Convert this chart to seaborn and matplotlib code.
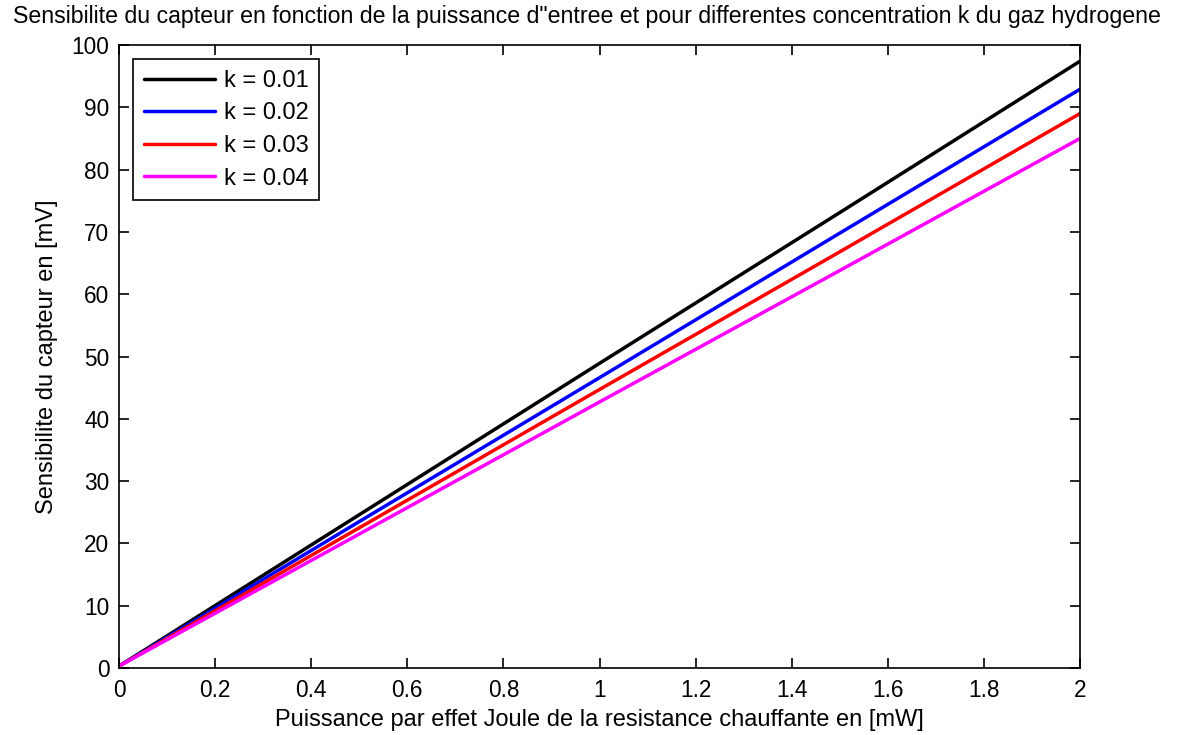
import numpy as np
import pandas as pd
import seaborn as sns
import matplotlib
matplotlib.use("Agg")
import matplotlib.pyplot as plt

sns.set_style("ticks")
plt.rcParams['font.family'] = ['Liberation Sans', 'DejaVu Sans']
plt.rcParams['text.color'] = 'black'
plt.rcParams['axes.labelcolor'] = 'black'
plt.rcParams['xtick.color'] = 'black'
plt.rcParams['ytick.color'] = 'black'

puissance = [0.0, 0.5, 1.0, 1.5, 2.0]
k_labels = ["k = 0.01", "k = 0.02", "k = 0.03", "k = 0.04"]
sens_k001 = [0.3, 24.6, 48.9, 73.1, 97.4]
sens_k002 = [0.3, 23.5, 46.6, 69.8, 92.9]
sens_k003 = [0.3, 22.5, 44.7, 66.8, 89.0]
sens_k004 = [0.3, 21.5, 42.7, 63.8, 85.0]
colors = ["#000000", "#0000ff", "#ff0000", "#ff00ff"]

rows = []
for lab, vals in zip(k_labels, [sens_k001, sens_k002, sens_k003, sens_k004]):
    for x, y in zip(puissance, vals):
        rows.append({"P": x, "S": y, "k": lab})
df = pd.DataFrame(rows)

fig = plt.figure(figsize=(11.98, 7.35), dpi=100)
ax = fig.add_axes([119/1198, 1 - 668/735, (1080-119)/1198, (668-45)/735])
sns.lineplot(data=df, x="P", y="S", hue="k", palette=colors, ax=ax, linewidth=2.5, legend=True)

ax.set_xlim(0, 2)
ax.set_ylim(0, 100)
ax.set_xticks(np.arange(0, 2.01, 0.2))
ax.set_xticklabels(["0", "0.2", "0.4", "0.6", "0.8", "1", "1.2", "1.4", "1.6", "1.8", "2"])
ax.set_yticks(np.arange(0, 101, 10))
ax.tick_params(direction="in", length=7, width=1.2, top=True, right=True, labelsize=16.3)
ax.tick_params(axis="y", pad=7)
ax.tick_params(axis="x", pad=8)
for s in ax.spines.values():
    s.set_visible(True)
    s.set_linewidth(1.2)
    s.set_color("black")
ax.set_xlabel("Puissance par effet Joule de la resistance chauffante en [mW]", fontsize=17, labelpad=5)
ax.set_ylabel("Sensibilite du capteur en [mV]", fontsize=17, labelpad=10)
fig.text(587/1198, 1 - 17/735,
         "Sensibilite du capteur en fonction de la puissance d\"entree et pour differentes concentration k du gaz hydrogene",
         fontsize=16.7, ha="center", va="center")

leg = ax.legend(loc="upper left", fontsize=17, frameon=True, fancybox=False, edgecolor="black",
                handlelength=3.0, handletextpad=0.4, borderaxespad=0.6, labelspacing=0.45, borderpad=0.45)
leg.get_frame().set_linewidth(1.2)
leg.get_frame().set_alpha(1)
for line in leg.get_lines():
    line.set_linewidth(2.5)

fig.savefig("out.png", dpi=100)
